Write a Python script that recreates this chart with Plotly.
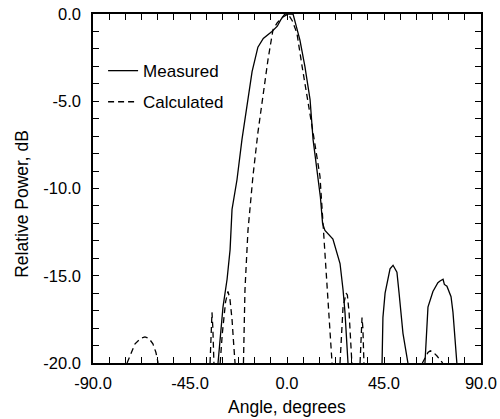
import plotly.graph_objects as go

# measured pattern (solid), lobes separated by None
meas_x = [-32.0, -29.7, -27.8, -26.4, -25.5, -23.2, -20.9, -18.5, -16.2, -13.5, -11.0, -7.0, -4.5, -3.0, -1.0, 0.5, 2.8, 4.5, 6.0, 8.3, 10.7, 12.1, 14.4, 15.5, 16.5, 17.6, 21.3, 24.6, 26.0, 26.9, 28.3,
          None,
          44.1, 44.5, 45.5, 47.8, 49.2, 51.0, 52.0, 53.8, 56.1,
          None,
          64.0, 65.4, 67.7, 70.0, 71.0, 72.4, 73.0, 74.2, 76.1, 77.0, 78.8]
meas_y = [-20.0, -16.8, -15.2, -13.5, -11.2, -9.5, -7.2, -5.2, -3.3, -1.9, -1.4, -1.0, -0.7, -0.35, 0.0, 0.0, 0.0, -0.8, -1.5, -3.0, -4.9, -7.2, -9.5, -10.5, -12.0, -12.4, -12.9, -14.3, -15.8, -17.1, -20.0,
          None,
          -20.0, -17.4, -16.0, -14.6, -14.4, -14.8, -16.0, -18.3, -20.0,
          None,
          -20.0, -16.8, -15.9, -15.4, -15.3, -15.2, -15.5, -15.6, -16.2, -17.1, -20.0]

# calculated pattern (dashed)
calc_x = [-74.2, -72.0, -70.5, -68.0, -65.9, -64.0, -62.2, -60.8, -59.8,
          None,
          -35.7, -35.2, -34.8, -34.4, -33.9,
          None,
          -31.0, -30.0, -28.5, -27.4, -26.5, -25.5, -24.8, -24.1,
          None,
          -20.2, -19.5, -18.1, -15.8, -13.5, -11.1, -8.8, -6.5, -4.5, -2.3, 0.5, 2.5, 4.6, 7.0, 9.7, 12.1, 15.3, 16.7, 18.6, 20.9,
          None,
          24.6, 26.0, 27.4, 28.0, 28.8, 30.1,
          None,
          33.9, 34.4, 34.8, 35.2, 35.7,
          None,
          62.8, 65.4, 66.5, 68.0, 69.6, 72.2]
calc_y = [-20.0, -19.3, -18.9, -18.6, -18.5, -18.6, -18.9, -19.4, -20.0,
          None,
          -20.0, -18.0, -17.1, -18.0, -20.0,
          None,
          -20.0, -18.3, -16.5, -15.9, -16.3, -17.5, -18.8, -20.0,
          None,
          -20.0, -15.8, -12.4, -9.3, -6.8, -4.5, -2.6, -0.9, -0.5, -0.2, 0.0, -0.4, -1.1, -3.0, -4.9, -6.8, -9.3, -12.0, -15.2, -20.0,
          None,
          -20.0, -16.8, -16.0, -16.1, -17.1, -20.0,
          None,
          -20.0, -18.0, -17.4, -18.0, -20.0,
          None,
          -20.0, -19.4, -19.3, -19.4, -19.6, -20.0]

x_ticks = [-90, -45, 0, 45, 90]
x_labels = ['-90.0', '-45.0', '0.0', '45.0', '90.0']
y_ticks = [0, -5, -10, -15, -20]
y_labels = ['0.0', '-5.0', '-10.0', '-15.0', '-20.0']
x_minor = [-90 + 7.5 * i for i in range(25)]
y_minor = list(range(-20, 1))

font = 'Liberation Sans, Arial, sans-serif'

fig = go.Figure()
fig.add_trace(go.Scatter(x=meas_x, y=meas_y, mode='lines', name='Measured', legendgroup='a',
                         line=dict(color='black', width=1.3)))
fig.add_trace(go.Scatter(x=calc_x, y=calc_y, mode='lines', name='Calculated', legendgroup='b',
                         line=dict(color='black', width=1.3, dash='6px,4px')))

ax = dict(showline=True, linecolor='black', linewidth=1.5, mirror='ticks', automargin=False,
          ticks='inside', ticklen=6, tickcolor='black', showgrid=False, zeroline=False,
          tickfont=dict(size=16.5, color='black'))

fig.update_xaxes(range=[-90, 90], tickvals=x_ticks, ticktext=x_labels, ticklabelstandoff=4,
                 minor=dict(tickvals=x_minor, ticks='inside', ticklen=6, tickcolor='black'),
                 **ax)
fig.update_yaxes(range=[-20, 0], tickvals=y_ticks, ticktext=y_labels, ticklabelstandoff=7,
                 minor=dict(tickvals=y_minor, ticks='inside', ticklen=6, tickcolor='black'),
                 **ax)

fig.add_annotation(text='Angle, degrees', xref='paper', yref='paper', x=0.5, y=-0.126,
                   xanchor='center', yanchor='middle', showarrow=False, font=dict(size=17.5))
fig.add_annotation(text='Relative Power, dB', xref='paper', yref='paper', x=-0.183, y=0.456,
                   xanchor='center', yanchor='middle', textangle=-90, showarrow=False,
                   font=dict(size=17.5))

fig.update_layout(
    width=500, height=419,
    margin=dict(l=93, r=19, t=14, b=56),
    plot_bgcolor='white', paper_bgcolor='white',
    font=dict(family=font, color='black'),
    legend=dict(x=0.026, y=0.888, xanchor='left', yanchor='top', bgcolor='rgba(0,0,0,0)',
                font=dict(size=17), tracegroupgap=6),
)

# page has an 8px body margin by default; drop it so the figure sits at 0,0
fig.write_html("out.html", config={'displayModeBar': False},
               post_script="document.body.style.margin='0';")
